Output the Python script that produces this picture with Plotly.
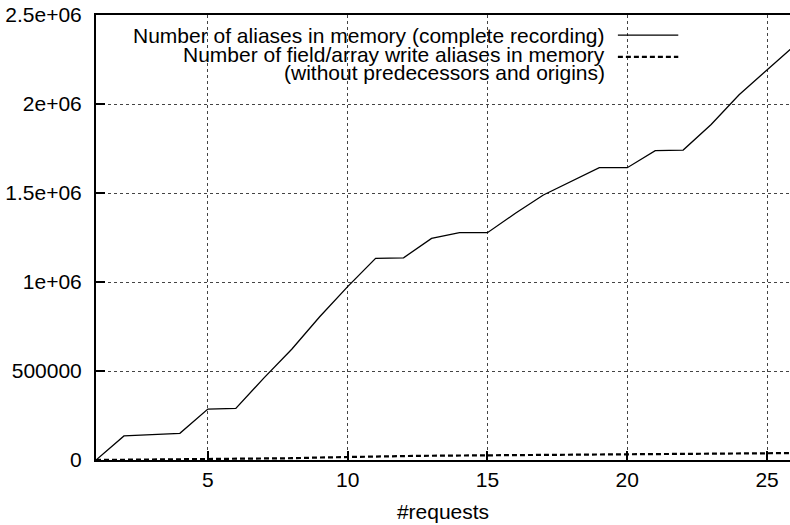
import plotly.graph_objects as go

# data
requests = list(range(1, 27))
aliases_complete = [
    0, 135000, 142000, 150000, 286000, 290000, 460000, 622000, 805000, 974000,
    1133000, 1136000, 1245000, 1277000, 1277000, 1386000, 1489000, 1565000, 1642000, 1642000,
    1738000, 1741000, 1885000, 2052000, 2191000, 2330000,
]
aliases_field_write = [
    0, 1000, 2000, 3000, 4000, 5000, 7000, 10000, 14000, 18000,
    20000, 22000, 24000, 25000, 27000, 28000, 29000, 30000, 31000, 32000,
    34000, 36000, 37000, 38000, 38500, 39000,
]
legend_labels = [
    "Number of aliases in memory (complete recording)",
    "Number of field/array write aliases in memory",
    "(without predecessors and origins)",
]
x_ticks = [5, 10, 15, 20, 25]
y_ticks = [0, 500000, 1000000, 1500000, 2000000, 2500000]
y_tick_text = ["0", "500000", "1e+06", "1.5e+06", "2e+06", "2.5e+06"]

FONT = "Liberation Sans, Arial, Helvetica, sans-serif"
FS = 21

fig = go.Figure()
fig.add_trace(go.Scatter(
    x=requests, y=aliases_complete, mode="lines",
    line=dict(color="black", width=1.3), name=legend_labels[0],
))
fig.add_trace(go.Scatter(
    x=requests, y=aliases_field_write, mode="lines",
    line=dict(color="black", width=2.2, dash="5px,3px"), name=legend_labels[1],
))

# gnuplot-style key: right-aligned text, sample line on the right
rows_y = [0.953, 0.911, 0.870]
for label, yy in zip(legend_labels, rows_y):
    fig.add_annotation(
        xref="paper", yref="paper", x=0.7365, y=yy, text=label,
        showarrow=False, xanchor="right", yanchor="middle",
        font=dict(family=FONT, size=FS, color="black"),
    )
fig.add_shape(type="line", xref="paper", yref="paper",
              x0=0.752, x1=0.839, y0=0.955, y1=0.955,
              line=dict(color="black", width=1.3))
fig.add_shape(type="line", xref="paper", yref="paper",
              x0=0.752, x1=0.839, y0=0.906, y1=0.906,
              line=dict(color="black", width=2.2, dash="5px,3px"))

fig.update_xaxes(
    range=[1, 25.82], tickvals=x_ticks, ticks="inside", ticklen=9, tickwidth=1.5,
    tickcolor="black", showline=True, linecolor="black", linewidth=2, mirror=True,
    showgrid=True, gridcolor="#444", griddash="dot", gridwidth=1, zeroline=False,
    tickfont=dict(family=FONT, size=FS, color="black"), ticklabelstandoff=0,
    automargin=False,
    title=dict(text="#requests", font=dict(family=FONT, size=FS, color="black"), standoff=14),
)
fig.update_yaxes(
    range=[0, 2500000], tickvals=y_ticks, ticktext=y_tick_text, ticks="inside",
    ticklen=9, tickwidth=1.5, tickcolor="black", showline=True, linecolor="black",
    linewidth=2, mirror=False, showgrid=True, gridcolor="#444", griddash="dot",
    gridwidth=1, zeroline=False, ticklabelstandoff=8, automargin=False,
    tickfont=dict(family=FONT, size=FS, color="black"),
)
fig.update_layout(
    width=790, height=525, showlegend=False,
    margin=dict(l=96, r=0, t=15, b=65),
    plot_bgcolor="white", paper_bgcolor="white",
)
# drop the page's default body margin so the figure fills the window
fig.write_html(
    "out.html",
    config={"displayModeBar": False},
    post_script="document.body.style.margin='0';",
)
